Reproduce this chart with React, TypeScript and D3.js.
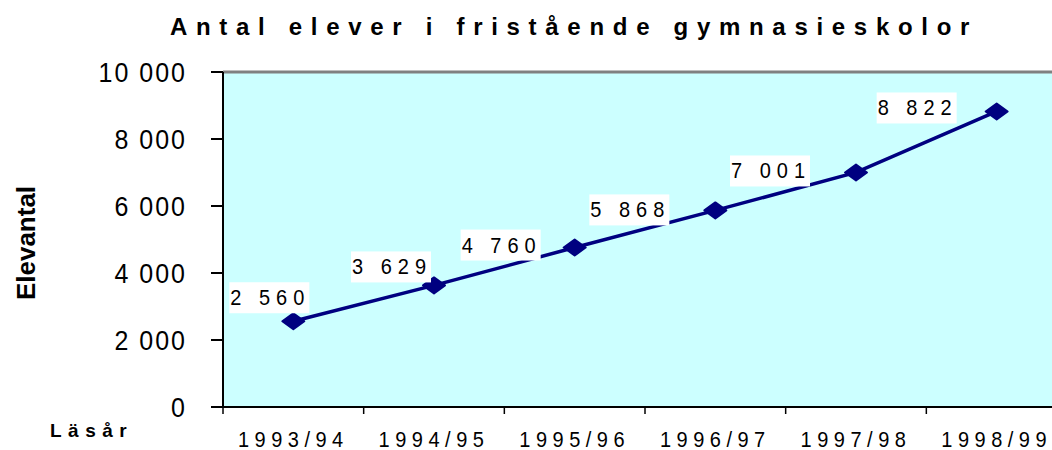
import * as d3 from "d3";

const categories = ["1993/94", "1994/95", "1995/96", "1996/97", "1997/98", "1998/99"];
const students = [2560, 3629, 4760, 5868, 7001, 8822];
const yTicks = [0, 2000, 4000, 6000, 8000, 10000];

// where each value label sits relative to its point
const labelDx = [-24, -43, -74, -86, -86, -80];
const labelDy = [-24, -19, -3, -1, -2, -4];

const W = 1052;
const H = 450;
const plot = { left: 223, right: 1067, top: 72, bottom: 407 };

const fmt = (v: number) => d3.format(",")(v).replace(/,/g, " ");

export default function App() {
  const x = d3.scaleBand<string>().domain(categories).range([plot.left, plot.right]).padding(0);
  const y = d3.scaleLinear().domain([0, 10000]).range([plot.bottom, plot.top]);
  const cx = (c: string) => (x(c) ?? 0) + x.bandwidth() / 2;

  const pts = categories.map((c, i) => ({ c, v: students[i] }));
  const line = d3.line<{ c: string; v: number }>().x(d => cx(d.c)).y(d => y(d.v));

  const diamond = "M-11,0 L0,-8 L11,0 L0,8 Z";

  return (
    <svg width={W} height={H} style={{ position: "absolute", left: 0, top: 0 }}
      fontFamily="'Liberation Sans', Arial, sans-serif">
      <rect x={plot.left} y={plot.top} width={plot.right - plot.left} height={plot.bottom - plot.top}
        fill="#ccffff" />
      <line x1={plot.left} x2={W} y1={plot.top} y2={plot.top} stroke="#808080" strokeWidth={3} />

      {/* title */}
      <text x={574} y={35} textAnchor="middle" fontSize={24} fontWeight="bold" letterSpacing={8.7}>
        Antal elever i fristående gymnasieskolor
      </text>

      {/* y axis */}
      <line x1={plot.left} x2={plot.left} y1={plot.top} y2={plot.bottom} stroke="#000" strokeWidth={2} />
      {yTicks.map(t => (
        <g key={t}>
          <line x1={plot.left - 12} x2={plot.left} y1={y(t)} y2={y(t)} stroke="#000" strokeWidth={2} />
          <text transform={`translate(187,${y(t) + 10}) scale(1,1.12)`} textAnchor="end" fontSize={25}
            letterSpacing={2}>{fmt(t)}</text>
        </g>
      ))}
      <text transform="translate(35,243) rotate(-90)" textAnchor="middle" fontSize={26} fontWeight="bold">
        Elevantal
      </text>

      {/* x axis */}
      <line x1={plot.left - 12} x2={W} y1={plot.bottom} y2={plot.bottom} stroke="#000" strokeWidth={2} />
      {categories.map(c => (
        <g key={c}>
          <line x1={x(c) ?? 0} x2={x(c) ?? 0} y1={plot.bottom} y2={plot.bottom + 7}
            stroke="#000" strokeWidth={1.5} />
          <text transform={`translate(${cx(c)},447) scale(1,1.1)`} textAnchor="middle" fontSize={20}
            letterSpacing={5.5}>{c}</text>
        </g>
      ))}
      <text x={50} y={437} fontSize={19} fontWeight="bold" letterSpacing={6.5}>Läsår</text>

      {/* series */}
      <path d={line(pts) ?? ""} fill="none" stroke="#000080" strokeWidth={3.5} />
      {pts.map(p => (
        <path key={p.c} d={diamond} transform={`translate(${cx(p.c)},${y(p.v)})`}
          fill="#000080" stroke="#000080" strokeWidth={2} strokeLinejoin="round" />
      ))}

      {/* value labels */}
      {pts.map((p, i) => {
        const lx = cx(p.c) + labelDx[i];
        const ly = y(p.v) + labelDy[i];
        return (
          <g key={"l" + p.c}>
            <rect x={lx - 40} y={ly - 15} width={80} height={31} fill="#fff" />
            <text transform={`translate(${lx + 1},${ly + 8}) scale(1,1.08)`} textAnchor="middle"
              fontSize={20} letterSpacing={6}>{fmt(p.v)}</text>
          </g>
        );
      })}
    </svg>
  );
}
